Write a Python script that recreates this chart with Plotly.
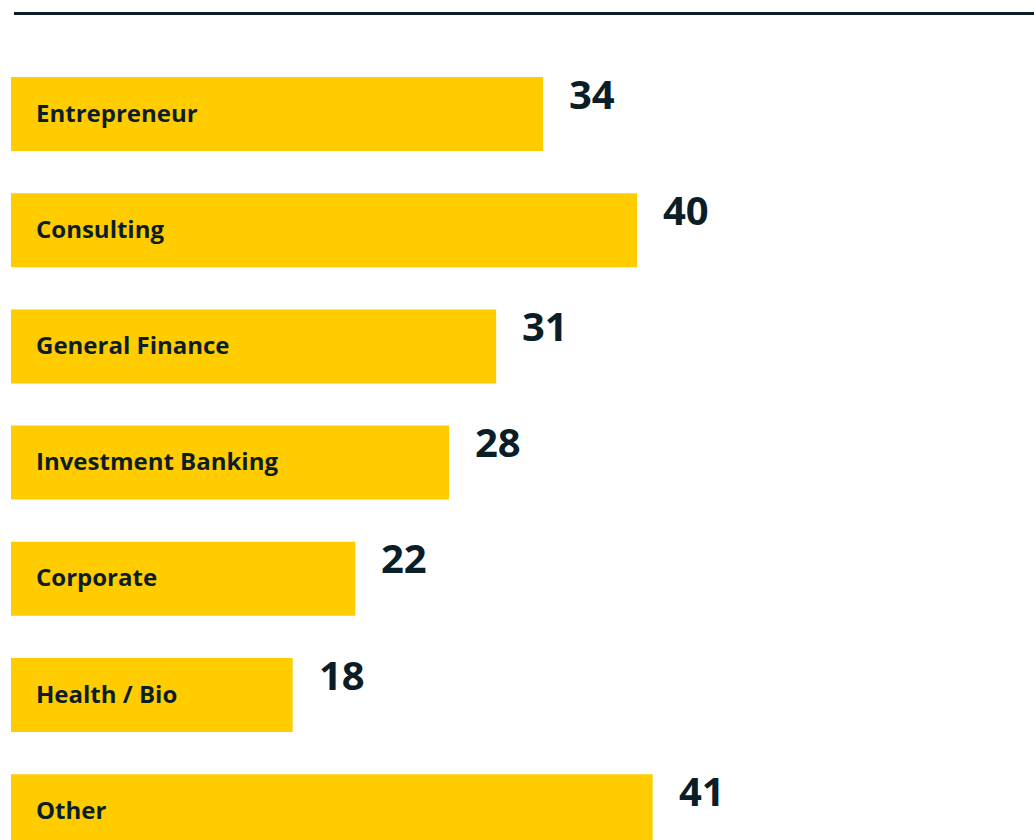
import plotly.graph_objects as go

categories = ["Entrepreneur", "Consulting", "General Finance", "Investment Banking",
              "Corporate", "Health / Bio", "Other"]
values = [34, 40, 31, 28, 22, 18, 41]

YELLOW = "#FFCC00"
DARK = "#0B1E28"

W, H = 1034, 840
L = 11
px_per_unit = 15.65
x_max = (W - L) / px_per_unit
row = 116.2
y_top = -114 / row
y_bot = y_top + H / row

fig = go.Figure(go.Bar(
    x=values, y=categories, orientation="h",
    marker=dict(color=YELLOW, line=dict(width=0)),
    width=0.637, hoverinfo="skip",
))

ann = []
for c, v in zip(categories, values):
    ann.append(dict(x=0, y=c, xref="x", yref="y", text=f"<b>{c}</b>", showarrow=False,
                    xanchor="left", yanchor="middle", xshift=23, yshift=2,
                    font=dict(family="Open Sans", size=24, color=DARK)))
    ann.append(dict(x=v, y=c, xref="x", yref="y", text=f"<b>{v}</b>", showarrow=False,
                    xanchor="left", yanchor="middle", xshift=24, yshift=21,
                    font=dict(family="Open Sans", size=40, color=DARK)))

ly = 1 - 13.5 / H
fig.update_layout(
    width=W, height=H,
    margin=dict(l=L, r=0, t=0, b=0),
    paper_bgcolor="white", plot_bgcolor="white",
    showlegend=False,
    xaxis=dict(range=[0, x_max], visible=False, fixedrange=True),
    yaxis=dict(categoryorder="array", categoryarray=categories,
               range=[y_bot, y_top], visible=False, fixedrange=True),
    annotations=ann,
    shapes=[dict(type="line", xref="paper", yref="paper",
                 x0=(14 - L) / (W - L), x1=1, y0=ly, y1=ly,
                 line=dict(color=DARK, width=3))],
    font=dict(family="Open Sans", color=DARK),
)

fig.write_html("out.html", config={"displayModeBar": False},
               post_script="document.body.style.margin='0';document.body.style.overflow='hidden';")
